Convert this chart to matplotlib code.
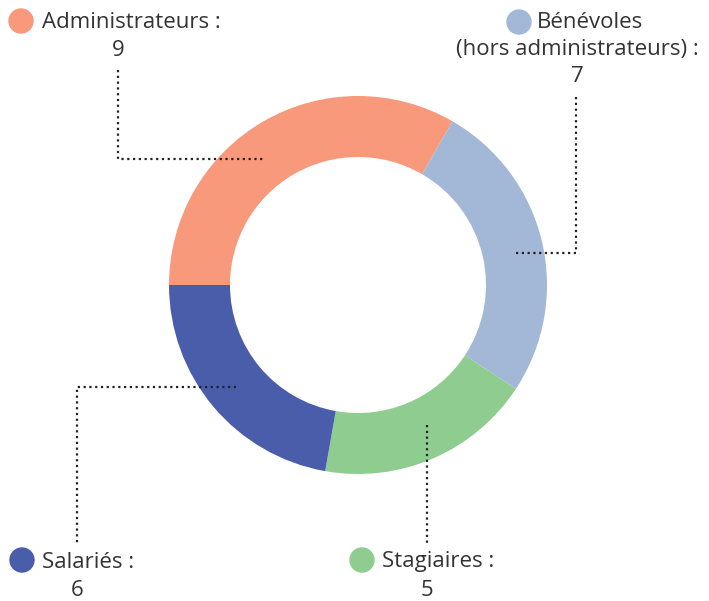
import matplotlib.pyplot as plt
from matplotlib.patches import Circle

# Effectifs de l'association
categories = ['Administrateurs', 'Bénévoles', 'Stagiaires', 'Salariés']
valeurs = [9, 7, 5, 6]
couleurs = ['#F7997A', '#A3B8D6', '#8FCC8F', '#4A5DAA']

W, H = 709, 601
fig = plt.figure(figsize=(W / 100, H / 100), dpi=100)
ax = fig.add_axes([0, 0, 1, 1])

def py(y):
    # coordonnées en pixels depuis le haut
    return H - y

cx, cy, r = 358, py(285), 189
ax.pie(valeurs, colors=couleurs, startangle=180, counterclock=False,
       radius=r, center=(cx, cy), frame=True,
       wedgeprops=dict(width=61, linewidth=0))
ax.set_xlim(0, W)
ax.set_ylim(0, H)
ax.set_aspect('equal')
ax.axis('off')

txt = dict(fontsize=16, color='#333333', family='Open Sans')
dots = dict(color='#222222', linestyle=(0, (1, 1.6)), linewidth=1.6)

# Administrateurs
ax.plot([118, 118, 265], [py(70), py(159), py(159)], **dots)
ax.add_patch(Circle((21, py(21)), 12, color=couleurs[0]))
ax.text(42, py(22), 'Administrateurs :', ha='left', va='center', **txt)
ax.text(118, py(50), str(valeurs[0]), ha='center', va='center', **txt)

# Bénévoles
ax.plot([576, 576, 513], [py(97), py(253), py(253)], **dots)
ax.add_patch(Circle((519, py(22)), 12, color=couleurs[1]))
ax.text(537, py(23), 'Bénévoles', ha='left', va='center', **txt)
ax.text(577, py(50), '(hors administrateurs) :', ha='center', va='center', **txt)
ax.text(577, py(77), str(valeurs[1]), ha='center', va='center', **txt)

# Stagiaires
ax.plot([427, 427], [py(425), py(545)], **dots)
ax.add_patch(Circle((362, py(560)), 12, color=couleurs[2]))
ax.text(382, py(562), 'Stagiaires :', ha='left', va='center', **txt)
ax.text(427, py(591), str(valeurs[2]), ha='center', va='center', **txt)

# Salariés
ax.plot([236, 77, 77], [py(387), py(387), py(545)], **dots)
ax.add_patch(Circle((22, py(560)), 12, color=couleurs[3]))
ax.text(42, py(562), 'Salariés :', ha='left', va='center', **txt)
ax.text(77, py(591), str(valeurs[3]), ha='center', va='center', **txt)

fig.savefig('out.png', dpi=100)
